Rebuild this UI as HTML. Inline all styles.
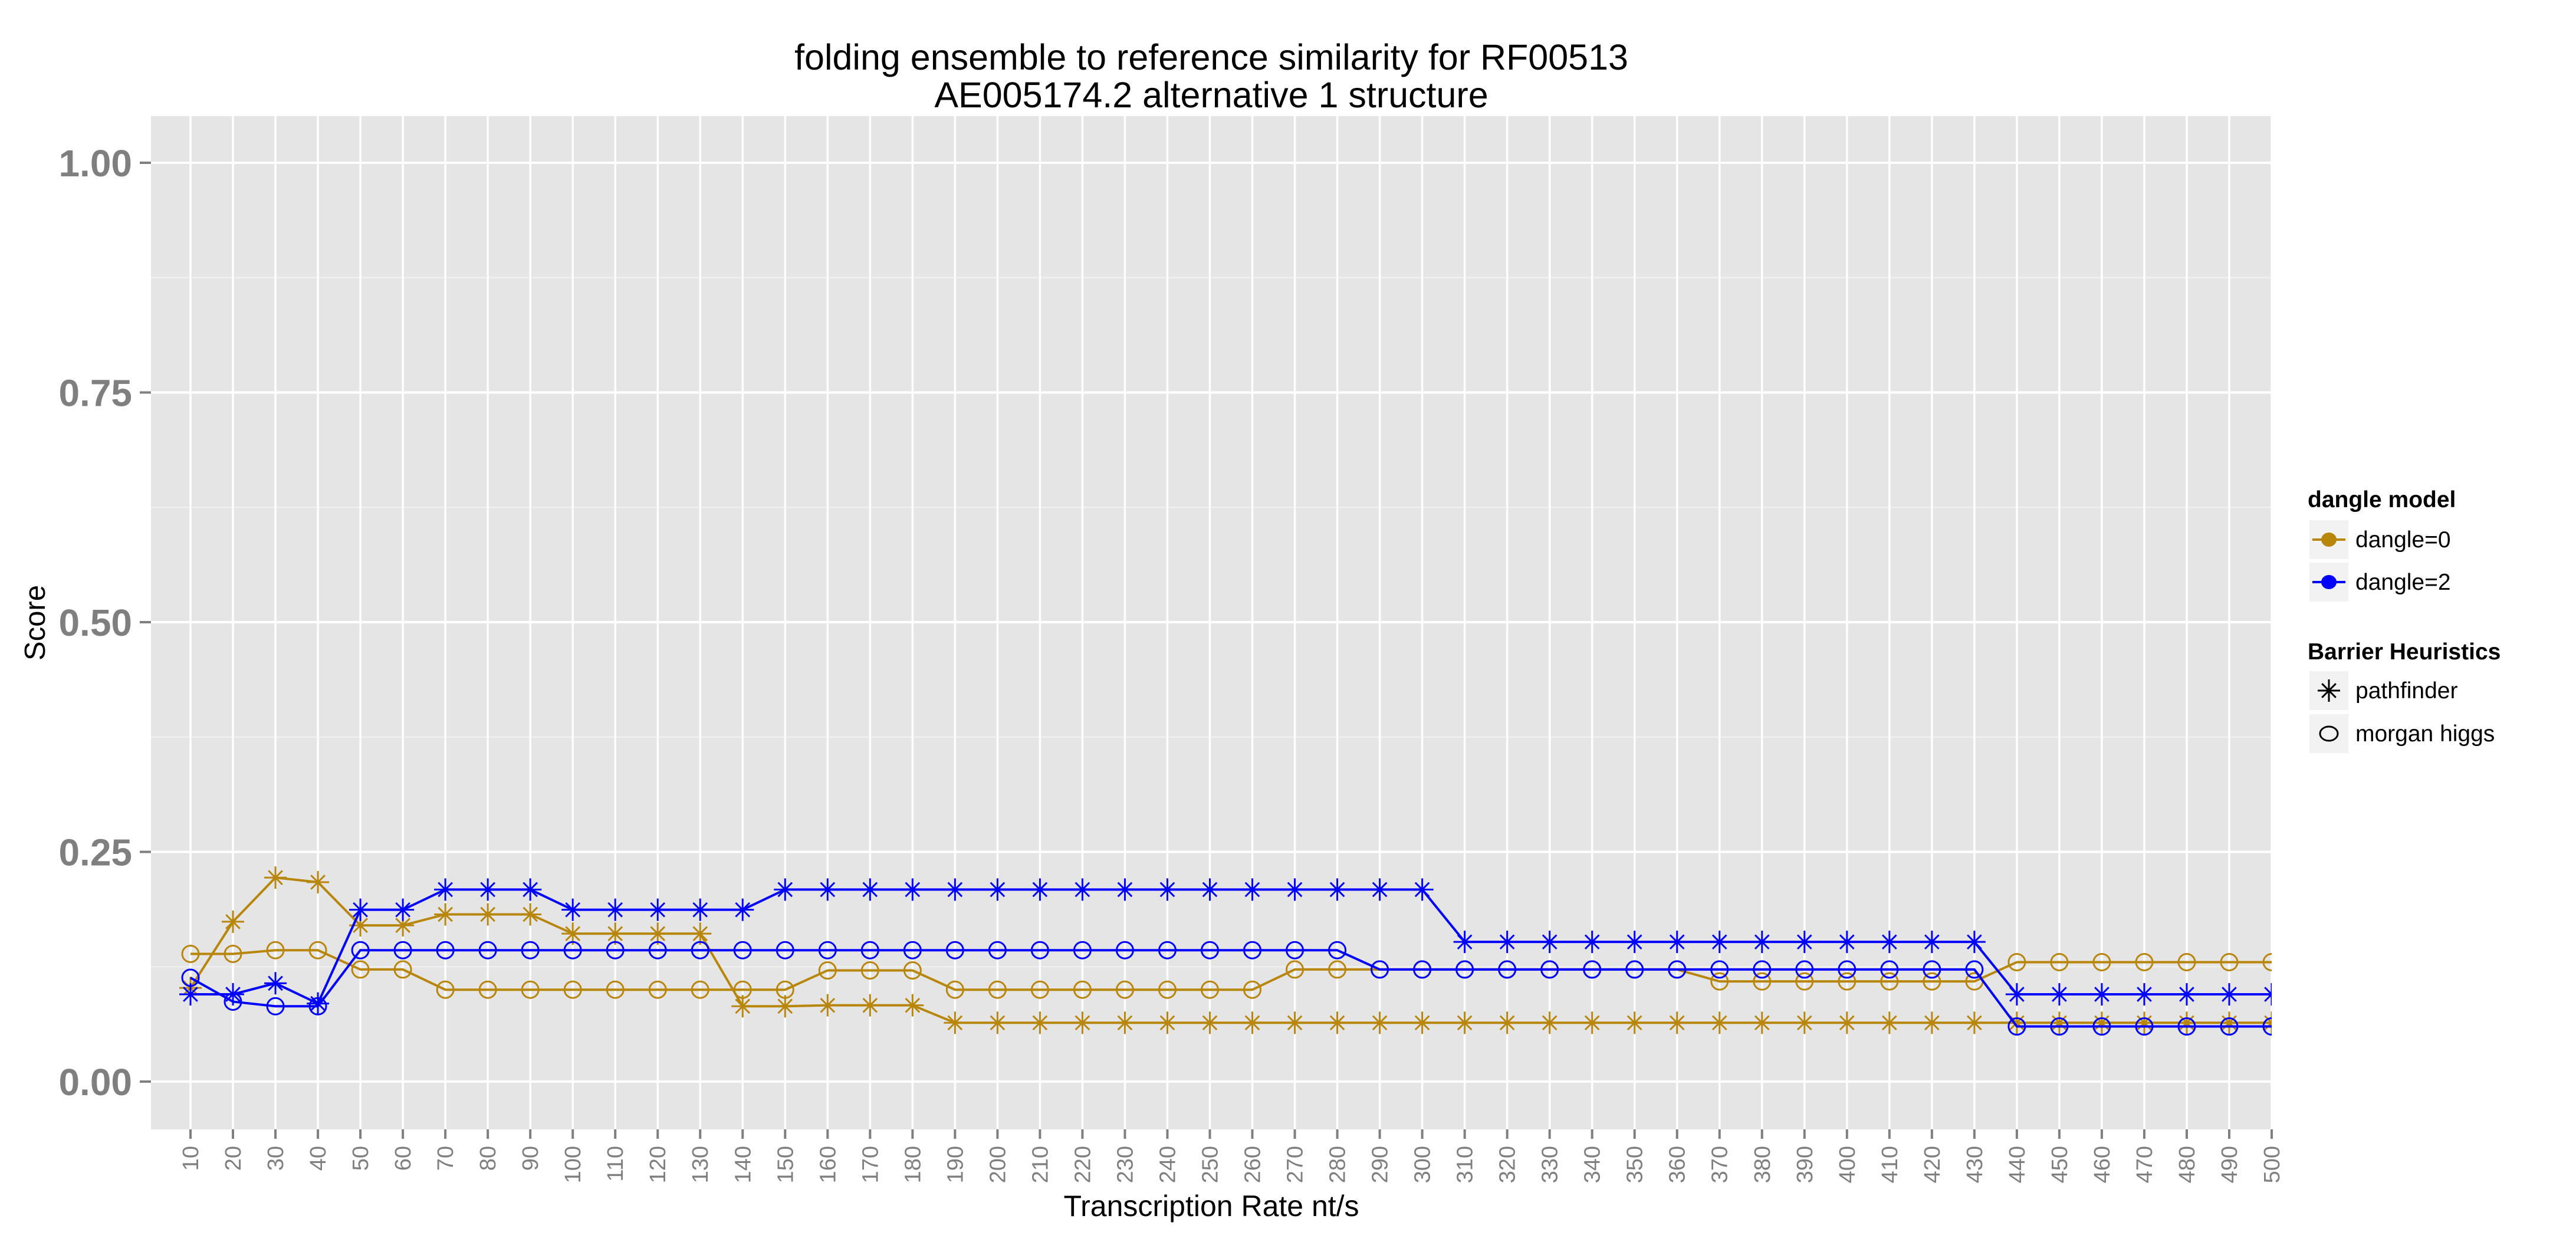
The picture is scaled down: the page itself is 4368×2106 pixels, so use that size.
<!DOCTYPE html>
<html><head><meta charset="utf-8"><style>
html,body{margin:0;padding:0;background:#fff;}
svg{display:block;font-family:"Liberation Sans",Arial,sans-serif;}
</style></head><body>
<svg id="chart" width="4368" height="2106" viewBox="0 0 4368 2106" xmlns="http://www.w3.org/2000/svg">
<rect x="0" y="0" width="4368" height="2106" fill="#fff"/>
<text x="2054" y="118" font-size="61" text-anchor="middle" fill="#000">folding ensemble to reference similarity for RF00513</text>
<text x="2054" y="182" font-size="61" text-anchor="middle" fill="#000">AE005174.2 alternative 1 structure</text>
<rect x="256" y="197" width="3596" height="1718" fill="#E5E5E5"/>
<g id="grid"></g>
<g id="yaxis"></g>
<g id="xaxis"></g>
<g id="series"></g>
<text transform="translate(76,1056) rotate(-90)" font-size="49" text-anchor="middle" fill="#000">Score</text>
<text x="2054" y="2062" font-size="50" text-anchor="middle" fill="#000">Transcription Rate nt/s</text>
<g>
<text x="3913" y="860" font-size="39" font-weight="bold" fill="#000">dangle model</text>
<g>
<rect x="3916" y="882" width="66" height="66" fill="#F2F2F2"/>
<line x1="3921" y1="915" x2="3977" y2="915" stroke="#B8860B" stroke-width="4"/>
<ellipse cx="3949" cy="915" rx="13" ry="12" fill="#B8860B"/>
<text x="3994" y="928" font-size="39" fill="#000">dangle=0</text>
</g>
<g>
<rect x="3916" y="954" width="66" height="66" fill="#F2F2F2"/>
<line x1="3921" y1="987" x2="3977" y2="987" stroke="#0000FF" stroke-width="4"/>
<ellipse cx="3949" cy="987" rx="13" ry="12" fill="#0000FF"/>
<text x="3994" y="1000" font-size="39" fill="#000">dangle=2</text>
</g>
<text x="3913" y="1118" font-size="39" font-weight="bold" fill="#000">Barrier Heuristics</text>
<g>
<rect x="3916" y="1138" width="66" height="66" fill="#F2F2F2"/>
<g id="legstar"></g>
<text x="3994" y="1184" font-size="39" fill="#000">pathfinder</text>
</g>
<g>
<rect x="3916" y="1211" width="66" height="66" fill="#F2F2F2"/>
<ellipse cx="3949" cy="1244" rx="15" ry="12" fill="none" stroke="#000" stroke-width="3"/>
<text x="3994" y="1257" font-size="39" fill="#000">morgan higgs</text>
</g>
</g>
</svg>
<script>
const categories = [10,20,30,40,50,60,70,80,90,100,110,120,130,140,150,160,170,180,190,200,210,220,230,240,250,260,270,280,290,300,310,320,330,340,350,360,370,380,390,400,410,420,430,440,450,460,470,480,490,500];
const yTicks = [0, 0.25, 0.5, 0.75, 1.0];
const yTickLabels = ["0.00","0.25","0.50","0.75","1.00"];
const d0Pathfinder = [0.102,0.174,0.222,0.217,0.170,0.170,0.182,0.182,0.182,0.161,0.161,0.161,0.161,0.082,0.082,0.083,0.083,0.083,0.064,0.064,0.064,0.064,0.064,0.064,0.064,0.064,0.064,0.064,0.064,0.064,0.064,0.064,0.064,0.064,0.064,0.064,0.064,0.064,0.064,0.064,0.064,0.064,0.064,0.064,0.064,0.064,0.064,0.064,0.064,0.064];
const d0Morgan = [0.139,0.139,0.143,0.143,0.122,0.122,0.100,0.100,0.100,0.100,0.100,0.100,0.100,0.100,0.100,0.121,0.121,0.121,0.100,0.100,0.100,0.100,0.100,0.100,0.100,0.100,0.122,0.122,0.122,0.122,0.122,0.122,0.122,0.122,0.122,0.122,0.109,0.109,0.109,0.109,0.109,0.109,0.109,0.130,0.130,0.130,0.130,0.130,0.130,0.130];
const d2Pathfinder = [0.095,0.095,0.107,0.085,0.187,0.187,0.209,0.209,0.209,0.187,0.187,0.187,0.187,0.187,0.209,0.209,0.209,0.209,0.209,0.209,0.209,0.209,0.209,0.209,0.209,0.209,0.209,0.209,0.209,0.209,0.152,0.152,0.152,0.152,0.152,0.152,0.152,0.152,0.152,0.152,0.152,0.152,0.152,0.095,0.095,0.095,0.095,0.095,0.095,0.095];
const d2Morgan = [0.113,0.087,0.082,0.082,0.143,0.143,0.143,0.143,0.143,0.143,0.143,0.143,0.143,0.143,0.143,0.143,0.143,0.143,0.143,0.143,0.143,0.143,0.143,0.143,0.143,0.143,0.143,0.143,0.122,0.122,0.122,0.122,0.122,0.122,0.122,0.122,0.122,0.122,0.122,0.122,0.122,0.122,0.122,0.060,0.060,0.060,0.060,0.060,0.060,0.060];

const NS = "http://www.w3.org/2000/svg";
const PL = 256, PR = 3852, PT = 197, PB = 1915;
const X0 = 323, XN = 3852;
function xScale(i){ return X0 + i*(XN - X0)/(categories.length-1); }
function yScale(v){ return 1834 - v*1558; }
function mk(tag, attrs, parent){ const e=document.createElementNS(NS,tag); for(const k in attrs) e.setAttribute(k,attrs[k]); parent.appendChild(e); return e; }

const grid = document.getElementById('grid');
for (let i=0;i<yTicks.length-1;i++){
  const v=(yTicks[i]+yTicks[i+1])/2;
  const l=mk('line',{x1:PL,x2:PR,y1:yScale(v),y2:yScale(v),stroke:'#F2F2F2','stroke-width':2},grid);
  
  
}
yTicks.forEach(v=>{
  const l=mk('line',{x1:PL,x2:PR,y1:yScale(v),y2:yScale(v),stroke:'#fff','stroke-width':4},grid);
  
  
});
categories.forEach((c,i)=>{
  const l=mk('line',{x1:xScale(i),x2:xScale(i),y1:PT,y2:PB,stroke:'#fff','stroke-width':3.5},grid);
  
  
});

const yax = document.getElementById('yaxis');
yTicks.forEach((v,i)=>{
  const t=mk('line',{x1:237,x2:256,y1:yScale(v),y2:yScale(v),stroke:'#7F7F7F','stroke-width':4},yax);
  
  
  const tx=mk('text',{x:224,y:yScale(v)+23,'font-size':64,'font-weight':'bold','text-anchor':'end',fill:'#7F7F7F'},yax);
  tx.textContent=yTickLabels[i];
  
  
});
const xax = document.getElementById('xaxis');
categories.forEach((c,i)=>{
  const x=xScale(i);
  const t=mk('line',{x1:x,x2:x,y1:PB,y2:PB+16,stroke:'#7F7F7F','stroke-width':4},xax);
  
  
  const tx=mk('text',{transform:`translate(${x+13},${PB+28}) rotate(-90)`,'font-size':38,'text-anchor':'end',fill:'#7F7F7F'},xax);
  tx.textContent=String(c);
  
  
});

const ser = document.getElementById('series');
const clip = mk('clipPath',{id:'pclip'},mk('defs',{},ser));
mk('rect',{x:PL,y:PT,width:PR-PL,height:PB-PT},clip);
const sg = mk('g',{'clip-path':'url(#pclip)'},ser);

function star(g, x, y, color, s){
  const p = `M${x},${y-s}L${x},${y+s}M${x-s},${y}L${x+s},${y}M${x-s*0.62},${y-s*0.62}L${x+s*0.62},${y+s*0.62}M${x-s*0.62},${y+s*0.62}L${x+s*0.62},${y-s*0.62}`;
  return mk('path',{d:p,stroke:color,'stroke-width':3,fill:'none'},g);
}
function drawSeries(vals, color, shape, name){
  const g=mk('g',{},sg);
  
  
  const pts=vals.map((v,i)=>xScale(i)+','+yScale(v)).join(' ');
  const pl=mk('polyline',{points:pts,fill:'none',stroke:color,'stroke-width':4},g);
  
  
  vals.forEach((v,i)=>{
    let m;
    if(shape==='star') m=star(g,xScale(i),yScale(v),color,19);
    else m=mk('ellipse',{cx:xScale(i),cy:yScale(v),rx:14,ry:14,fill:'none',stroke:color,'stroke-width':3},g);
    
    
  });
}
drawSeries(d0Morgan,'#B8860B','circle','dangle0-morgan-higgs');
drawSeries(d0Pathfinder,'#B8860B','star','dangle0-pathfinder');
drawSeries(d2Morgan,'#0000FF','circle','dangle2-morgan-higgs');
drawSeries(d2Pathfinder,'#0000FF','star','dangle2-pathfinder');
star(document.getElementById('legstar'),3949,1171,'#000',19);
</script>
</body></html>
